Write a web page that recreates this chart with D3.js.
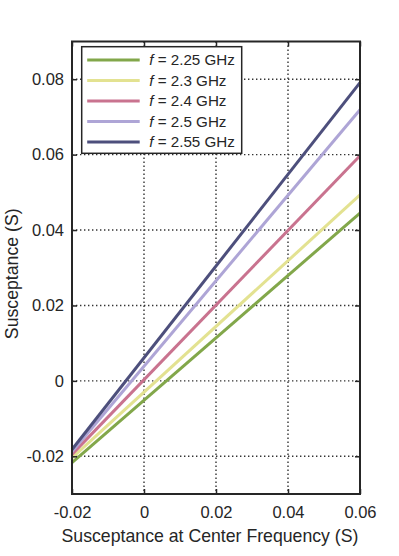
<!DOCTYPE html>
<html>
<head>
<meta charset="utf-8">
<script src="https://cdn.jsdelivr.net/npm/d3@7"></script>
<style>
  body { margin: 0; background: #fff; }
  svg { font-family: "Liberation Sans", Arial, sans-serif; }
</style>
</head>
<body>
<svg id="chart" width="399" height="556"></svg>
<script>
// line endpoints (x = -0.02 and x = 0.06)
const freqs = ["2.25", "2.3", "2.4", "2.5", "2.55"];
const colors = ["#82a74a", "#e3e291", "#c9738f", "#aea5d6", "#4d4f7c"];
const xVals = [-0.02, 0.06];
const startVals = [-0.0217, -0.0204, -0.0195, -0.0188, -0.0182];
const endVals = [0.0445, 0.0493, 0.0597, 0.0719, 0.0791];
const xTicks = [-0.02, 0, 0.02, 0.04, 0.06];
const yTicks = [-0.02, 0, 0.02, 0.04, 0.06, 0.08];

const margin = { top: 41.5, right: 39, bottom: 62, left: 72 };
const width = 399 - margin.left - margin.right;
const height = 556 - margin.top - margin.bottom;

const svg = d3.select("#chart");
const g = svg.append("g").attr("transform", `translate(${margin.left},${margin.top})`);

const x = d3.scaleLinear().domain([-0.02, 0.06]).range([0, width]);
const y = d3.scaleLinear().domain([-0.03, 0.09]).range([height, 0]);

// plain hyphen for negatives, like the original
const fmt = d => d === 0 ? "0" : d3.format(".2f")(d).replace("\u2212", "-");

// grid
g.append("g").selectAll("line")
    .data(xTicks.slice(1, -1))
    .join("line")
    .attr("x1", d => x(d)).attr("x2", d => x(d))
    .attr("y1", 0).attr("y2", height)
    .attr("stroke", "#333").attr("stroke-width", 1.4)
    .attr("stroke-dasharray", "1.4,2.6");
g.append("g").selectAll("line")
    .data(yTicks)
    .join("line")
    .attr("x1", 0).attr("x2", width)
    .attr("y1", d => y(d)).attr("y2", d => y(d))
    .attr("stroke", "#333").attr("stroke-width", 1.4)
    .attr("stroke-dasharray", "1.4,2.6");

// lines
const series = freqs.map((f, i) => ({
    f: f, color: colors[i],
    pts: [[xVals[0], startVals[i]], [xVals[1], endVals[i]]]
}));
const line = d3.line().x(d => x(d[0])).y(d => y(d[1]));
g.append("g").selectAll("path")
    .data(series)
    .join("path")
    .attr("d", d => line(d.pts))
    .attr("fill", "none")
    .attr("stroke", d => d.color)
    .attr("stroke-width", 3);

// axes
const axisStyle = (sel, labels) => {
    sel.select(".domain").remove();
    sel.selectAll(".tick line").attr("stroke", "#262626").attr("stroke-width", 1.5);
    sel.selectAll(".tick text")
        .attr("fill", "#262626")
        .style("font-size", "16.5px")
        .style("display", labels ? null : "none");
};
g.append("g").attr("transform", `translate(0,${height})`)
    .call(d3.axisBottom(x).tickValues(xTicks).tickFormat(fmt).tickSizeInner(-5).tickPadding(12.5))
    .call(s => axisStyle(s, true));
g.append("g")
    .call(d3.axisTop(x).tickValues(xTicks).tickSizeInner(-5))
    .call(s => axisStyle(s, false));
g.append("g")
    .call(d3.axisLeft(y).tickValues(yTicks).tickFormat(fmt).tickSizeInner(-5).tickPadding(8))
    .call(s => axisStyle(s, true));
g.append("g").attr("transform", `translate(${width},0)`)
    .call(d3.axisRight(y).tickValues(yTicks).tickSizeInner(-5))
    .call(s => axisStyle(s, false));

// frame
g.append("rect")
    .attr("width", width).attr("height", height)
    .attr("fill", "none").attr("stroke", "#262626").attr("stroke-width", 2);

// legend
const legend = g.append("g").attr("transform", `translate(${81.7 - margin.left},${46.7 - margin.top})`);
legend.append("rect")
    .attr("width", 160).attr("height", 106.6)
    .attr("fill", "#fff").attr("stroke", "#262626").attr("stroke-width", 1.5);
const items = legend.selectAll("g.item")
    .data(series)
    .join("g")
    .attr("class", "item")
    .attr("transform", (d, i) => `translate(0,${13.3 + i * 20.5})`);
items.append("line")
    .attr("x1", 5.5).attr("x2", 58)
    .attr("stroke", d => d.color).attr("stroke-width", 3);
const txt = items.append("text")
    .attr("x", 67.5).attr("dy", "0.36em")
    .attr("fill", "#262626")
    .style("font-size", "15.2px");
txt.append("tspan").style("font-style", "italic").text("f");
txt.append("tspan").text(d => ` = ${d.f} GHz`);

// axis titles
svg.append("text")
    .attr("x", margin.left + width / 2 - 6).attr("y", 542)
    .attr("text-anchor", "middle")
    .attr("fill", "#262626")
    .style("font-size", "17.7px")
    .text("Susceptance at Center Frequency (S)");
svg.append("text")
    .attr("transform", `translate(18,${margin.top + height / 2 + 6}) rotate(-90)`)
    .attr("text-anchor", "middle")
    .attr("fill", "#262626")
    .style("font-size", "17.7px")
    .text("Susceptance (S)");
</script>
</body>
</html>
